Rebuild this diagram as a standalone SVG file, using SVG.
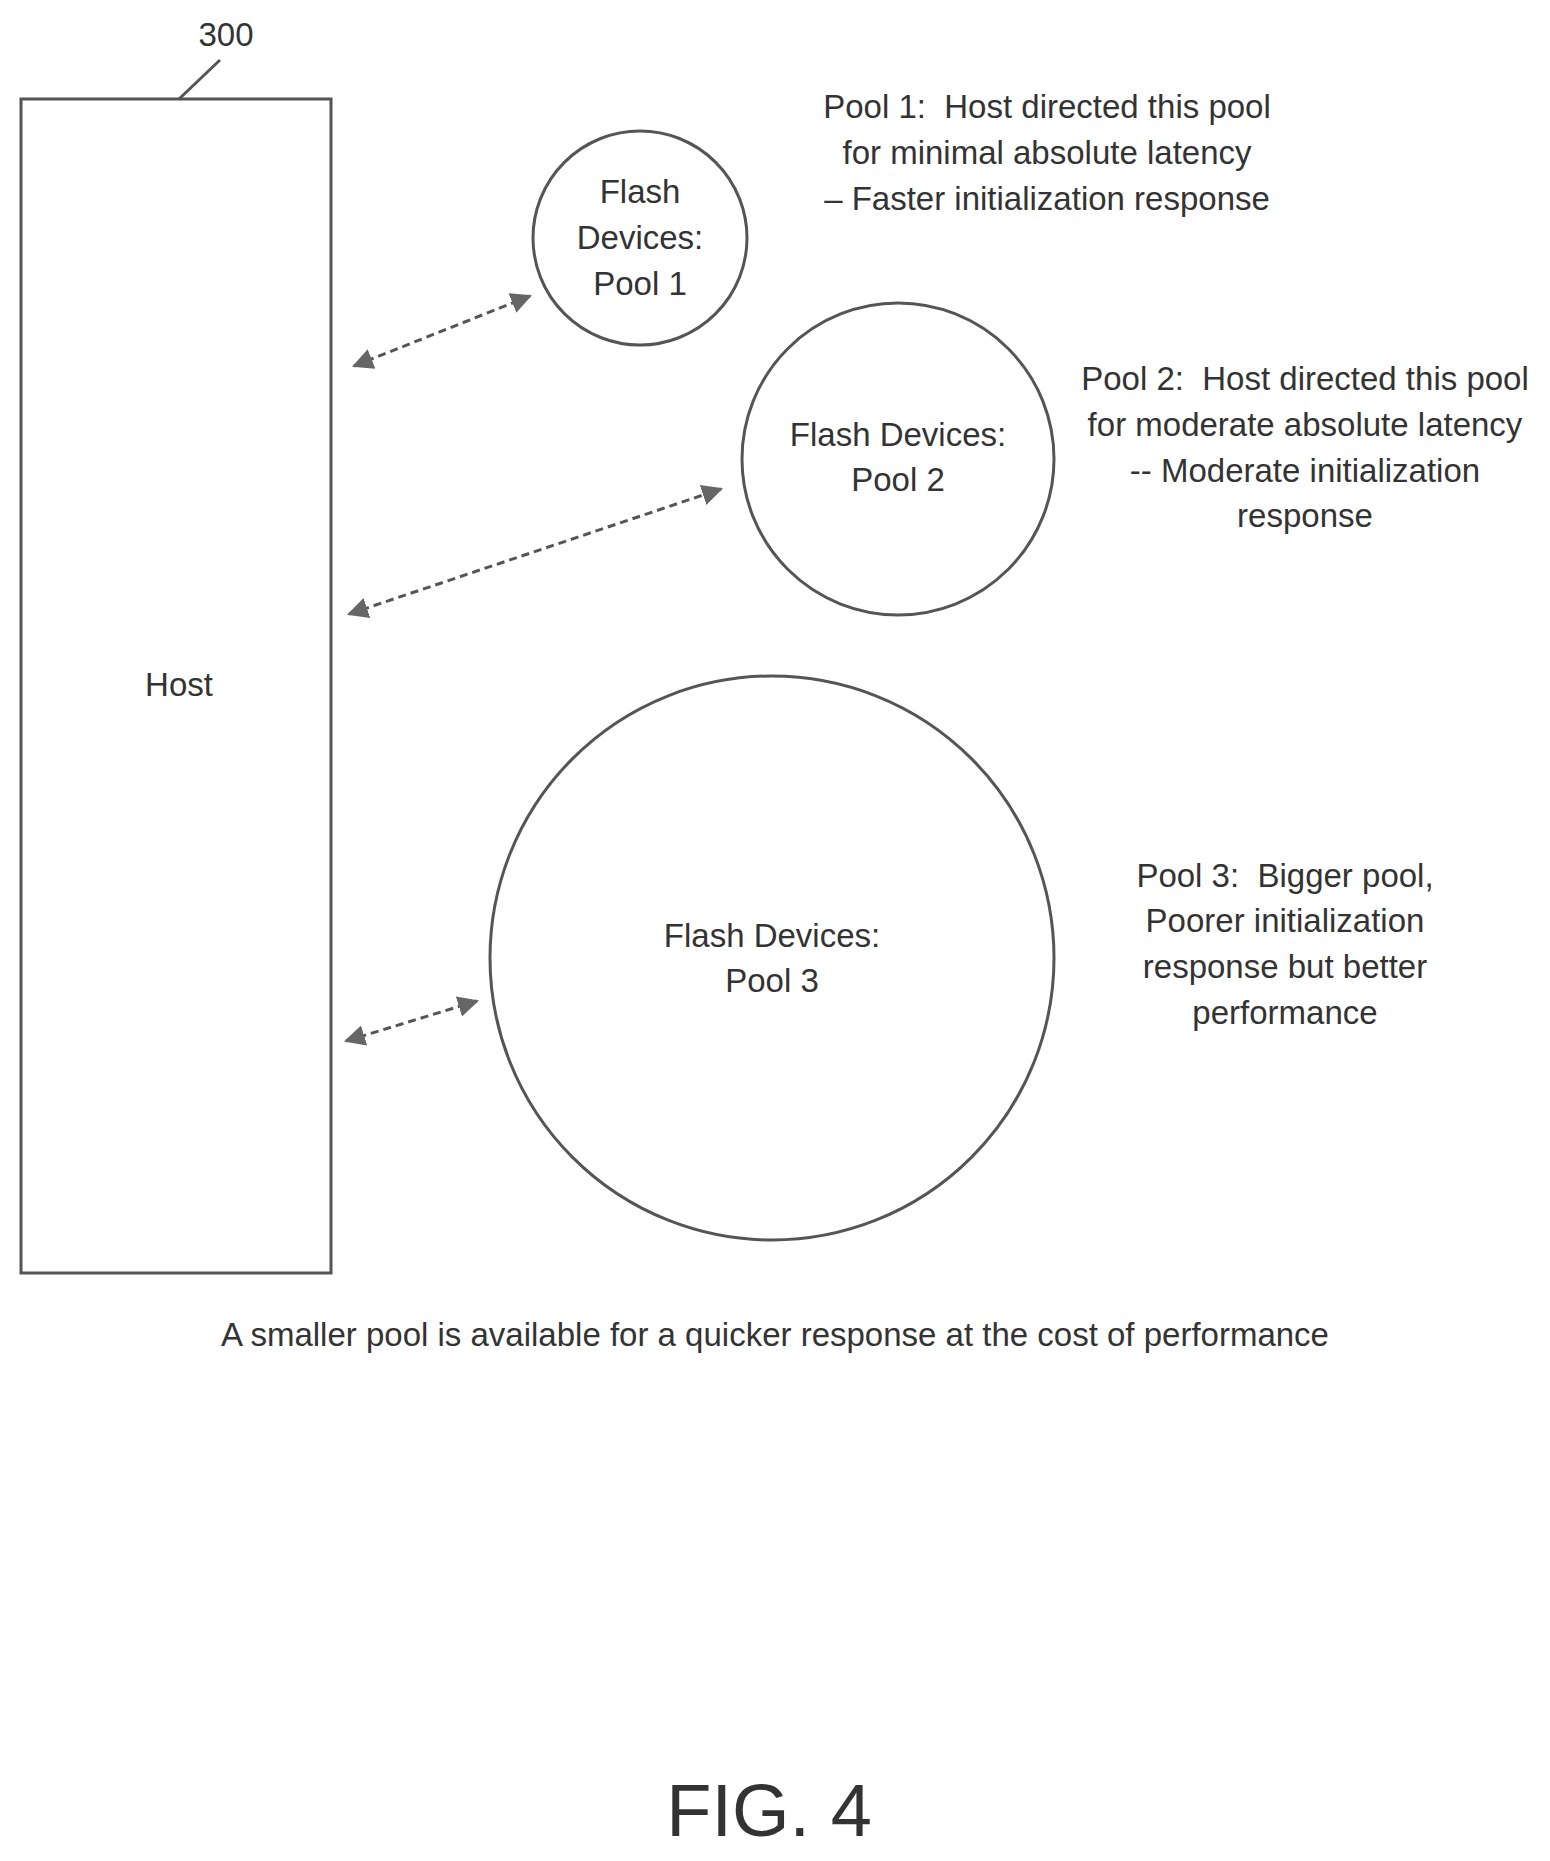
<svg xmlns="http://www.w3.org/2000/svg" width="1550" height="1861" viewBox="0 0 1550 1861">
<style>
text{font-family:"Liberation Sans",Arial,sans-serif;fill:#333;text-anchor:middle;white-space:pre}
.t{font-size:33px}
.s{fill:none;stroke:#555;stroke-width:3}
.c{stroke:#555;stroke-width:3;stroke-dasharray:8,5;fill:none}
</style>
<defs>
<marker id="a" viewBox="0 0 10 10" refX="9" refY="5" markerWidth="7" markerHeight="7" orient="auto-start-reverse" markerUnits="strokeWidth"><path d="M0,0L10,5L0,10z" fill="#666"/></marker>
</defs>
<rect width="1550" height="1861" fill="#fff"/>
<g id="host"><rect class="s" x="21" y="99" width="310" height="1174"/><text class="t" x="179" y="696" fill="#777">Host</text></g>
<g id="label300"><text class="t" x="226" y="46">300</text><line class="s" x1="179" y1="99" x2="220" y2="60"/></g>
<g id="pool1"><circle class="s" cx="640" cy="238" r="107"/>
<text class="t" x="640" y="203">Flash</text><text class="t" x="640" y="249">Devices:</text><text class="t" x="640" y="295">Pool 1</text></g>
<g id="pool2"><circle class="s" cx="898" cy="459" r="156"/>
<text class="t" x="898" y="446">Flash Devices:</text><text class="t" x="898" y="491">Pool 2</text></g>
<g id="pool3"><circle class="s" cx="772" cy="958" r="282"/>
<text class="t" x="772" y="947">Flash Devices:</text><text class="t" x="772" y="992">Pool 3</text></g>
<g id="notes">
<text class="t" x="1047" y="118" xml:space="preserve">Pool 1:  Host directed this pool</text>
<text class="t" x="1047" y="164">for minimal absolute latency</text>
<text class="t" x="1047" y="210">– Faster initialization response</text>
<text class="t" x="1305" y="390" xml:space="preserve">Pool 2:  Host directed this pool</text>
<text class="t" x="1305" y="436">for moderate absolute latency</text>
<text class="t" x="1305" y="482">-- Moderate initialization</text>
<text class="t" x="1305" y="527">response</text>
<text class="t" x="1285" y="887" xml:space="preserve">Pool 3:  Bigger pool,</text>
<text class="t" x="1285" y="932">Poorer initialization</text>
<text class="t" x="1285" y="978">response but better</text>
<text class="t" x="1285" y="1024">performance</text>
<text class="t" x="775" y="1346">A smaller pool is available for a quicker response at the cost of performance</text>
<text x="769" y="1836" font-size="74">FIG. 4</text>
</g>
<g id="connectors">
<line class="c" x1="354" y1="366" x2="530" y2="296" marker-start="url(#a)" marker-end="url(#a)"/>
<line class="c" x1="349" y1="614" x2="721" y2="489" marker-start="url(#a)" marker-end="url(#a)"/>
<line class="c" x1="346" y1="1041" x2="477" y2="1001" marker-start="url(#a)" marker-end="url(#a)"/>
</g>
</svg>
